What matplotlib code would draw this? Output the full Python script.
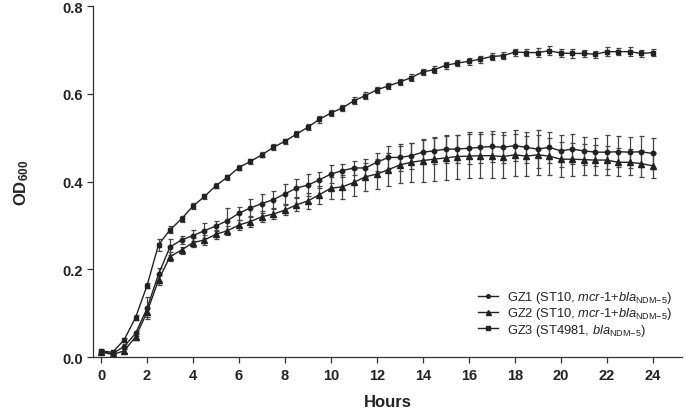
import matplotlib
matplotlib.use("Agg")
import matplotlib.pyplot as plt
from matplotlib.lines import Line2D

plt.rcParams['font.family'] = ['Liberation Sans', 'DejaVu Sans']
plt.rcParams['mathtext.fontset'] = 'custom'
plt.rcParams['mathtext.rm'] = 'Liberation Sans'
plt.rcParams['mathtext.it'] = 'Liberation Sans:italic'
plt.rcParams['mathtext.bf'] = 'Liberation Sans:bold'

hours = [0, 0.5, 1, 1.5, 2, 2.5, 3, 3.5, 4, 4.5, 5, 5.5, 6, 6.5, 7, 7.5, 8, 8.5,
         9, 9.5, 10, 10.5, 11, 11.5, 12, 12.5, 13, 13.5, 14, 14.5, 15, 15.5, 16,
         16.5, 17, 17.5, 18, 18.5, 19, 19.5, 20, 20.5, 21, 21.5, 22, 22.5, 23,
         23.5, 24]

gz1 = [0.012, 0.008, 0.024, 0.054, 0.111, 0.189, 0.251, 0.267, 0.277, 0.288,
       0.299, 0.311, 0.328, 0.340, 0.350, 0.359, 0.372, 0.385, 0.392, 0.404,
       0.417, 0.425, 0.431, 0.431, 0.444, 0.455, 0.455, 0.459, 0.467, 0.470,
       0.474, 0.474, 0.476, 0.478, 0.480, 0.478, 0.482, 0.478, 0.474, 0.478,
       0.470, 0.474, 0.470, 0.467, 0.467, 0.468, 0.467, 0.468, 0.464]
gz1_sd = [0.004, 0.004, 0.005, 0.006, 0.025, 0.015, 0.018, 0.010, 0.012, 0.017,
          0.012, 0.028, 0.015, 0.020, 0.022, 0.020, 0.022, 0.020, 0.025, 0.018,
          0.020, 0.015, 0.016, 0.020, 0.020, 0.027, 0.031, 0.030, 0.028, 0.029,
          0.032, 0.032, 0.036, 0.036, 0.036, 0.035, 0.036, 0.035, 0.044, 0.035,
          0.036, 0.034, 0.032, 0.032, 0.038, 0.035, 0.035, 0.035, 0.035]

gz2 = [0.012, 0.006, 0.014, 0.046, 0.102, 0.176, 0.229, 0.244, 0.261, 0.267,
       0.280, 0.288, 0.301, 0.309, 0.320, 0.326, 0.335, 0.347, 0.356, 0.370,
       0.385, 0.388, 0.398, 0.411, 0.417, 0.427, 0.438, 0.444, 0.448, 0.451,
       0.454, 0.457, 0.458, 0.459, 0.459, 0.457, 0.461, 0.458, 0.461, 0.458,
       0.451, 0.451, 0.450, 0.449, 0.449, 0.444, 0.444, 0.441, 0.436]
gz2_sd = [0.004, 0.004, 0.004, 0.006, 0.010, 0.012, 0.010, 0.008, 0.010, 0.012,
          0.010, 0.010, 0.012, 0.012, 0.012, 0.012, 0.012, 0.015, 0.018, 0.020,
          0.025, 0.028, 0.030, 0.032, 0.034, 0.038, 0.042, 0.045, 0.048, 0.050,
          0.050, 0.050, 0.050, 0.050, 0.050, 0.048, 0.048, 0.045, 0.045, 0.042,
          0.040, 0.038, 0.036, 0.035, 0.033, 0.032, 0.030, 0.030, 0.028]

gz3 = [0.014, 0.011, 0.039, 0.090, 0.163, 0.256, 0.290, 0.315, 0.344, 0.366,
       0.391, 0.410, 0.432, 0.446, 0.461, 0.478, 0.492, 0.508, 0.524, 0.542,
       0.556, 0.568, 0.584, 0.596, 0.609, 0.618, 0.627, 0.637, 0.650, 0.655,
       0.665, 0.670, 0.674, 0.679, 0.685, 0.687, 0.695, 0.694, 0.694, 0.698,
       0.693, 0.692, 0.692, 0.690, 0.696, 0.696, 0.696, 0.692, 0.694]
gz3_sd = [0.004, 0.004, 0.004, 0.005, 0.006, 0.014, 0.008, 0.006, 0.007, 0.006,
          0.006, 0.006, 0.006, 0.006, 0.006, 0.007, 0.006, 0.007, 0.007, 0.008,
          0.007, 0.007, 0.008, 0.008, 0.007, 0.007, 0.007, 0.008, 0.007, 0.008,
          0.008, 0.007, 0.008, 0.008, 0.008, 0.008, 0.008, 0.008, 0.010, 0.010,
          0.010, 0.010, 0.008, 0.008, 0.010, 0.008, 0.010, 0.008, 0.008]

labels = [r'GZ1 (ST10, $\mathit{mcr}$-$\mathit{1}$+$\mathit{bla}_{\mathrm{NDM{-}5}}$)',
          r'GZ2 (ST10, $\mathit{mcr}$-$\mathit{1}$+$\mathit{bla}_{\mathrm{NDM{-}5}}$)',
          r'GZ3 (ST4981, $\mathit{bla}_{\mathrm{NDM{-}5}}$)']

ink = '#222222'
fig = plt.figure(figsize=(6.86, 4.14), dpi=100)
ax = fig.add_axes([0.1356, 0.135, 0.858, 0.848])

series = [(gz1, gz1_sd, 'o', 3.2), (gz2, gz2_sd, '^', 4.2), (gz3, gz3_sd, 's', 3.2)]
handles = []
for (vals, sd, mk, ms), lab in zip(series, labels):
    ax.errorbar(hours, vals, yerr=sd, color=ink, ecolor='#444444', marker=mk,
                markersize=ms, linewidth=1.0, elinewidth=0.9, capsize=1.8,
                capthick=0.9)
    handles.append(Line2D([], [], color=ink, marker=mk, markersize=ms - 0.6,
                          linewidth=1.0, label=lab))

ax.set_xlim(-0.35, 25.26)
ax.set_ylim(0, 0.8)
ax.set_xticks(range(0, 25, 2))
ax.set_yticks([0.0, 0.2, 0.4, 0.6, 0.8])
ax.set_yticklabels(['0.0', '0.2', '0.4', '0.6', '0.8'])
for s in ['top', 'right']:
    ax.spines[s].set_visible(False)
for s in ['left', 'bottom']:
    ax.spines[s].set_color('#333333')
    ax.spines[s].set_linewidth(0.9)
ax.tick_params(direction='out', length=4, width=0.9, colors='#333333',
               labelsize=10.5, labelcolor='#222222')
for t in ax.get_xticklabels() + ax.get_yticklabels():
    t.set_fontweight('bold')

ax.set_xlabel('Hours', fontsize=12, fontweight='bold', color='#222222', labelpad=9)
ax.set_ylabel(r'$\mathbf{OD}_{\mathbf{600}}$', fontsize=12, color='#222222', labelpad=22)

leg = ax.legend(handles=handles, loc='upper left', bbox_to_anchor=(0.688, 0.315),
                bbox_transform=fig.transFigure, frameon=False, fontsize=9.3,
                handlelength=1.5, handletextpad=0.75, labelspacing=0.02, borderpad=0)
for txt in leg.get_texts():
    txt.set_color('#222222')

fig.savefig('out.png', dpi=100)
